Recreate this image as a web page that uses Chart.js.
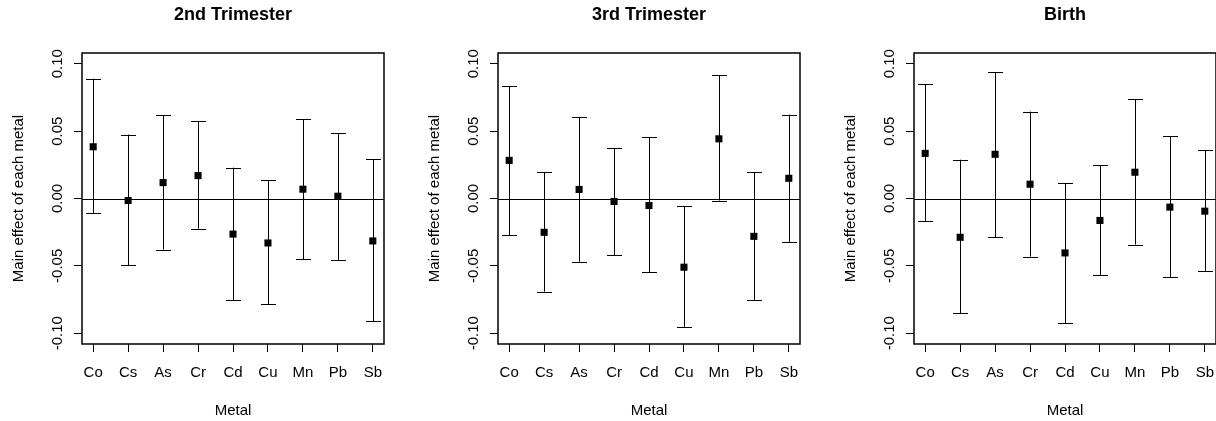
<!DOCTYPE html>
<html>
<head>
<meta charset="utf-8">
<script src="https://cdn.jsdelivr.net/npm/chart.js@4.4.1/dist/chart.umd.min.js"></script>
<style>
  html, body { margin: 0; padding: 0; background: #fff; }
  body { width: 1216px; height: 421px; position: relative; overflow: hidden; }
  .panel { position: absolute; top: 0; width: 414px; height: 421px; }
</style>
</head>
<body>
<div class="panel" style="left:0px"><canvas id="c1"></canvas></div>
<div class="panel" style="left:416px"><canvas id="c2"></canvas></div>
<div class="panel" style="left:832px"><canvas id="c3"></canvas></div>
<script>
// metais no eixo x
const metals = ['Co', 'Cs', 'As', 'Cr', 'Cd', 'Cu', 'Mn', 'Pb', 'Sb'];

// 2nd Trimester
const trim2Est = [0.0384, -0.0015, 0.0118, 0.0170, -0.0264, -0.0330, 0.0069, 0.0017, -0.0315];
const trim2Lo  = [-0.0111, -0.0495, -0.0380, -0.0224, -0.0754, -0.0786, -0.0451, -0.0456, -0.0911];
const trim2Hi  = [0.0889, 0.0475, 0.0620, 0.0576, 0.0229, 0.0135, 0.0589, 0.0485, 0.0290];

// 3rd Trimester
const trim3Est = [0.0283, -0.0251, 0.0067, -0.0022, -0.0052, -0.0510, 0.0443, -0.0281, 0.0150];
const trim3Lo  = [-0.0273, -0.0692, -0.0470, -0.0421, -0.0549, -0.0953, -0.0015, -0.0756, -0.0325];
const trim3Hi  = [0.0835, 0.0195, 0.0606, 0.0374, 0.0453, -0.0059, 0.0914, 0.0197, 0.0623];

// Birth
const birthEst = [0.0335, -0.0288, 0.0328, 0.0106, -0.0404, -0.0163, 0.0195, -0.0064, -0.0094];
const birthLo  = [-0.0170, -0.0852, -0.0288, -0.0431, -0.0924, -0.0569, -0.0342, -0.0584, -0.0537];
const birthHi  = [0.0850, 0.0288, 0.0938, 0.0645, 0.0116, 0.0249, 0.0739, 0.0461, 0.0357];

const yTicks = [-0.10, -0.05, 0.00, 0.05, 0.10];
const yTickLabels = ['-0.10', '-0.05', '0.00', '0.05', '0.10'];

const FONT = '"Liberation Sans", Arial, Helvetica, sans-serif';

// barras de erro, linha do zero, caixa e rótulos do eixo y
const errorBarPlugin = {
  id: 'errorBars',
  beforeDatasetsDraw(chart) {
    const { ctx, chartArea: a, scales: { x, y } } = chart;
    const eb = chart.options.plugins.errorBars;
    ctx.save();
    ctx.strokeStyle = '#000';
    ctx.lineWidth = 1;
    // linha horizontal em 0
    const y0 = Math.round(y.getPixelForValue(0)) + 0.5;
    ctx.beginPath();
    ctx.moveTo(a.left, y0);
    ctx.lineTo(a.right, y0);
    ctx.stroke();
    eb.lo.forEach((lo, i) => {
      const px = Math.round(x.getPixelForValue(i + 1)) + 0.5;
      const pLo = y.getPixelForValue(lo);
      const pHi = y.getPixelForValue(eb.hi[i]);
      ctx.beginPath();
      ctx.moveTo(px, pLo);
      ctx.lineTo(px, pHi);
      ctx.moveTo(px - 7.5, Math.round(pLo) + 0.5);
      ctx.lineTo(px + 7.5, Math.round(pLo) + 0.5);
      ctx.moveTo(px - 7.5, Math.round(pHi) + 0.5);
      ctx.lineTo(px + 7.5, Math.round(pHi) + 0.5);
      ctx.stroke();
    });
    ctx.restore();
  },
  afterDraw(chart) {
    const { ctx, chartArea: a, scales: { y } } = chart;
    ctx.save();
    ctx.strokeStyle = '#000';
    ctx.lineWidth = 1.5;
    ctx.strokeRect(a.left, a.top, a.right - a.left, a.bottom - a.top);
    ctx.fillStyle = '#000';
    ctx.font = '15px ' + FONT;
    ctx.textAlign = 'center';
    ctx.textBaseline = 'middle';
    yTicks.forEach((v, i) => {
      ctx.save();
      ctx.translate(a.left - 24.5, y.getPixelForValue(v));
      ctx.rotate(-Math.PI / 2);
      ctx.fillText(yTickLabels[i], 0, 0);
      ctx.restore();
    });
    ctx.restore();
  }
};

function makePanel(id, title, est, lo, hi) {
  const ctx = document.getElementById(id).getContext('2d');
  return new Chart(ctx, {
    type: 'scatter',
    data: {
      datasets: [{
        data: metals.map((m, i) => ({ x: i + 1, y: est[i] })),
        pointStyle: 'rect',
        pointRadius: 5,
        pointHoverRadius: 5,
        backgroundColor: '#000',
        borderColor: '#000',
        borderWidth: 0
      }]
    },
    options: {
      responsive: false,
      animation: false,
      events: [],
      layout: { padding: { left: 0, right: 30, top: 0, bottom: 0 } },
      plugins: {
        legend: { display: false },
        tooltip: { enabled: false },
        title: {
          display: true,
          text: title,
          fullSize: false,
          color: '#000',
          font: { family: FONT, size: 18, weight: 'bold' },
          padding: { top: 4.6, bottom: 26.8 }
        },
        errorBars: { lo: lo, hi: hi }
      },
      scales: {
        x: {
          type: 'linear',
          min: 0.68,
          max: 9.32,
          afterBuildTicks: s => { s.ticks = metals.map((m, i) => ({ value: i + 1 })); },
          afterFit: s => { s.height = 77; },
          grid: { drawOnChartArea: false, drawTicks: true, tickLength: 8, color: '#000', lineWidth: 1 },
          border: { display: false },
          ticks: {
            autoSkip: false,
            maxRotation: 0,
            padding: 12,
            color: '#000',
            font: { family: FONT, size: 15 },
            callback: v => metals[v - 1]
          },
          title: {
            display: true,
            text: 'Metal',
            color: '#000',
            font: { family: FONT, size: 15 },
            padding: { top: 0, bottom: 1 }
          }
        },
        y: {
          type: 'linear',
          min: -0.108,
          max: 0.108,
          afterBuildTicks: s => { s.ticks = yTicks.map(v => ({ value: v })); },
          afterFit: s => { s.width = 82; },
          grid: { drawOnChartArea: false, drawTicks: true, tickLength: 8, color: '#000', lineWidth: 1 },
          border: { display: false },
          ticks: { display: false },
          title: {
            display: true,
            text: 'Main effect of each metal',
            color: '#000',
            font: { family: FONT, size: 15 },
            padding: { top: 10, bottom: 0 }
          }
        }
      }
    },
    plugins: [errorBarPlugin]
  });
}

['c1', 'c2', 'c3'].forEach(id => {
  const c = document.getElementById(id);
  c.width = 414;
  c.height = 421;
});

makePanel('c1', '2nd Trimester', trim2Est, trim2Lo, trim2Hi);
makePanel('c2', '3rd Trimester', trim3Est, trim3Lo, trim3Hi);
makePanel('c3', 'Birth', birthEst, birthLo, birthHi);
</script>
</body>
</html>
